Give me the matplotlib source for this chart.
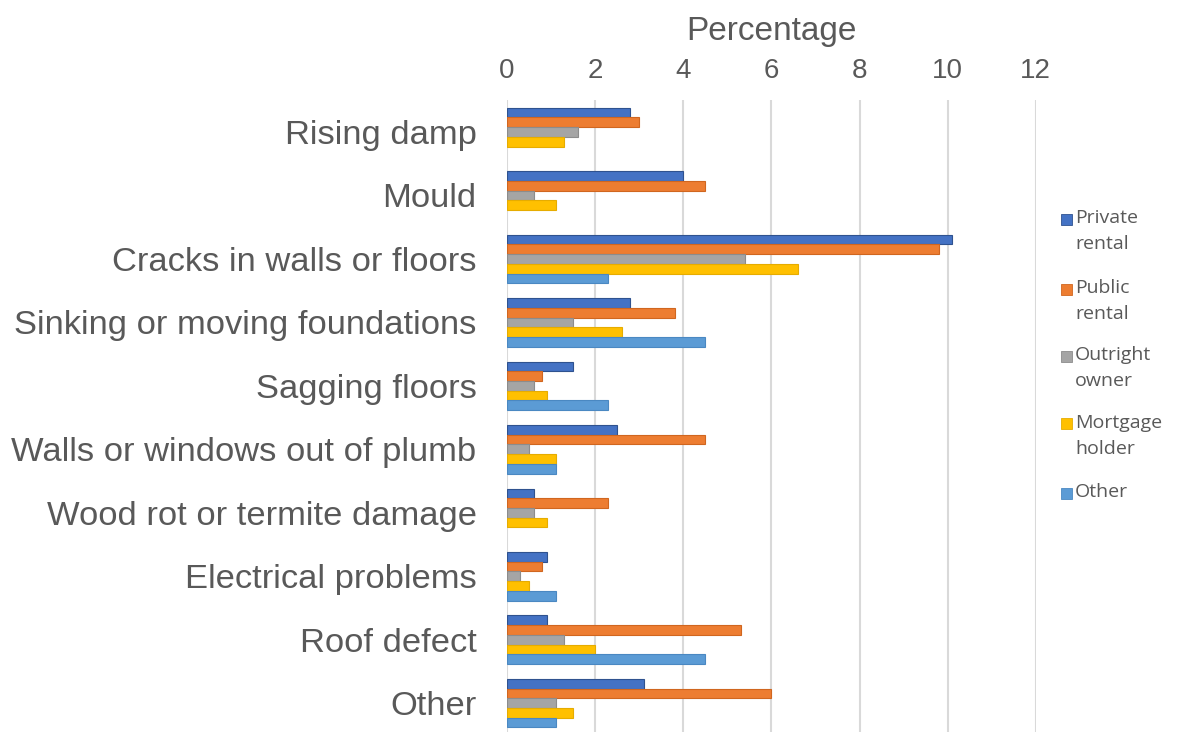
import matplotlib.pyplot as plt
import matplotlib.patches as mpatches
import numpy as np

plt.rcParams['font.family'] = ['Liberation Sans', 'DejaVu Sans']

categories = ["Rising damp", "Mould", "Cracks in walls or floors",
              "Sinking or moving foundations", "Sagging floors",
              "Walls or windows out of plumb", "Wood rot or termite damage",
              "Electrical problems", "Roof defect", "Other"]

series_names = ["Private\nrental", "Public\nrental", "Outright\nowner",
                "Mortgage\nholder", "Other"]

private_rental = [2.8, 4.0, 10.1, 2.8, 1.5, 2.5, 0.6, 0.9, 0.9, 3.1]
public_rental = [3.0, 4.5, 9.8, 3.8, 0.8, 4.5, 2.3, 0.8, 5.3, 6.0]
outright_owner = [1.6, 0.6, 5.4, 1.5, 0.6, 0.5, 0.6, 0.3, 1.3, 1.1]
mortgage_holder = [1.3, 1.1, 6.6, 2.6, 0.9, 1.1, 0.9, 0.5, 2.0, 1.5]
other = [0.0, 0.0, 2.3, 4.5, 2.3, 1.1, 0.0, 1.1, 4.5, 1.1]

colors = ["#4472C4", "#ED7D31", "#A5A5A5", "#FFC000", "#5B9BD5"]
edges = ["#2F528F", "#D0661F", "#8C8C8C", "#E6AC00", "#4A88C2"]
text_color = "#595959"

all_series = [private_rental, public_rental, outright_owner, mortgage_holder, other]

fig = plt.figure(figsize=(11.96, 7.32), dpi=100)
ax = fig.add_axes([0.424, -0.004, 0.442, 0.867])

y = np.arange(len(categories))
bar_h = 0.153
for j, vals in enumerate(all_series):
    lw = [0.8 if v > 0 else 0 for v in vals]
    ax.barh(y + (j - 2) * bar_h, vals, height=bar_h, color=colors[j],
            edgecolor=edges[j], linewidth=lw, zorder=3)

ax.set_ylim(len(categories) - 0.5, -0.5)
ax.set_xlim(0, 12)
ax.set_xticks([0, 2, 4, 6, 8, 10, 12])
ax.set_yticks(y)
ax.set_yticklabels(categories)
ax.xaxis.tick_top()
ax.xaxis.set_label_position("top")
ax.set_xlabel("Percentage", fontsize=24, color=text_color, labelpad=13)
ax.tick_params(axis='x', length=0, labelsize=20, labelcolor=text_color, pad=12)
ax.tick_params(axis='y', length=0, labelsize=24.8, labelcolor=text_color, pad=22)
ax.grid(axis='x', color="#D9D9D9", linewidth=1.5, zorder=0)
for s in ax.spines.values():
    s.set_visible(False)

# legend drawn by hand so the square sits beside the first line
leg_y = [219, 289, 356, 424, 493]
for j, name in enumerate(series_names):
    yy = 1 - leg_y[j] / 732
    fig.add_artist(mpatches.Rectangle((1061 / 1196, yy - 5.5 / 732), 11 / 1196, 11 / 732,
                                      transform=fig.transFigure, facecolor=colors[j],
                                      edgecolor=edges[j], linewidth=0.6))
    fig.text(1075 / 1196, yy + 10 / 732, name, fontsize=14, color=text_color,
             va='top', ha='left', linespacing=1.6, family=['Open Sans', 'DejaVu Sans'])

fig.savefig("out.png", dpi=100)
